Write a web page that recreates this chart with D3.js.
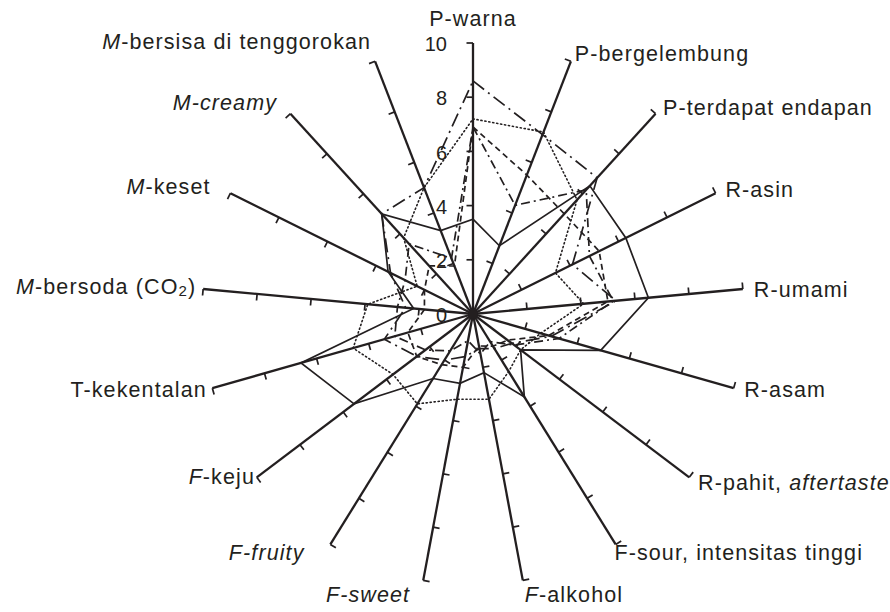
<!DOCTYPE html>
<html>
<head>
<meta charset="utf-8">
<script src="https://cdn.jsdelivr.net/npm/d3@7"></script>
<style>
  html, body { margin: 0; padding: 0; background: #fff; }
  svg { display: block; font-family: "Liberation Sans", Arial, sans-serif; }
</style>
</head>
<body>
<svg id="chart" width="890" height="612"></svg>
<script>
// ---- data ----
const categories = [
  "P-warna", "P-bergelembung", "P-terdapat endapan", "R-asin", "R-umami", "R-asam",
  "R-pahit, <i>aftertaste</i>", "F-sour, intensitas tinggi", "<i>F</i>-alkohol",
  "<i>F-sweet</i>", "<i>F-fruity</i>", "<i>F</i>-keju", "T-kekentalan",
  "<i>M</i>-bersoda (CO<sub>2</sub>)", "<i>M</i>-keset", "<i>M-creamy</i>",
  "<i>M</i>-bersisa di tenggorokan"
];
const tickValues = [0, 2, 4, 6, 8, 10];
const seriesSolid   = [3.5, 2.7, 6.4, 6.3, 6.5, 4.9, 2.2, 3.6, 2.2, 2.6, 2.8, 5.5, 6.6, 2.2, 3.5, 5.0, 3.3];
const seriesDotted  = [7.2, 7.2, 5.7, 3.4, 4.1, 2.6, 2.2, 2.5, 3.2, 3.2, 3.9, 3.7, 4.6, 3.9, 2.3, 3.8, 5.0];
const seriesDashed  = [6.9, 5.5, 5.0, 5.2, 5.0, 2.9, 1.6, 1.4, 1.2, 2.0, 2.2, 2.6, 2.5, 1.8, 2.0, 2.4, 1.9];
const seriesDashDot = [8.6, 7.1, 6.8, 4.1, 5.3, 3.0, 1.8, 1.5, 1.3, 1.6, 2.0, 2.6, 3.4, 2.5, 3.4, 5.0, 5.0];
const seriesDashDot2 = [6.9, 4.3, 6.2, 4.8, 5.2, 3.3, 1.9, 1.2, 1.5, 1.0, 1.6, 2.2, 3.0, 2.8, 2.8, 3.5, 2.2];

// ---- layout ----
const cx = 473, cy = 314, R = 271;
const ink = "#231f20";
// small per-label position nudges [dx, dy] in px (layout only)
const labelNudge = [
  [0, 3], [0, 4], [0, 3], [0, 3], [0, 3], [0, 0], [0, 0], [-7, 0], [0, 5],
  [-11, 5], [-20, 0], [7, -6], [5, 0], [4, 0], [-10, 0], [-6, -2], [0, -8]
];

const svg = d3.select("#chart");
const g = svg.append("g").attr("transform", `translate(${cx},${cy})`);

const n = categories.length;
const angle = d3.scaleLinear().domain([0, n]).range([0, 2 * Math.PI]);
const r = d3.scaleLinear().domain([0, 10]).range([0, R]);
const dir = i => [Math.sin(angle(i)), -Math.cos(angle(i))];

// series
const series = [
  { values: seriesDotted,   dash: "1.2,2.8", width: 1.6, cap: "round" },
  { values: seriesDashed,   dash: "6,4",     width: 1.7, cap: "butt" },
  { values: seriesDashDot2, dash: "9,4,2,4", width: 1.7, cap: "butt" },
  { values: seriesDashDot,  dash: "14,5,2,5", width: 1.7, cap: "butt" },
  { values: seriesSolid,    dash: null,      width: 1.7, cap: "butt" }
];
const line = d3.lineRadial()
  .angle((d, i) => angle(i))
  .radius(d => r(d))
  .curve(d3.curveLinearClosed);

// axes
const axes = g.append("g");
categories.forEach((c, i) => {
  const [dx, dy] = dir(i);
  axes.append("line")
    .attr("x1", 0).attr("y1", 0)
    .attr("x2", dx * r(10)).attr("y2", dy * r(10))
    .attr("stroke", ink).attr("stroke-width", 2.3);
  tickValues.filter(v => v > 0).forEach(v => {
    const px = dx * r(v), py = dy * r(v);
    axes.append("line")
      .attr("x1", px).attr("y1", py)
      .attr("x2", px + dy * 6.5).attr("y2", py - dx * 6.5)
      .attr("stroke", ink).attr("stroke-width", 1.7);
  });
});

series.forEach(s => {
  g.append("path")
    .attr("d", line(s.values))
    .attr("fill", "none")
    .attr("stroke", ink)
    .attr("stroke-width", s.width)
    .attr("stroke-linecap", s.cap)
    .attr("stroke-dasharray", s.dash);
});

g.append("circle").attr("r", 5).attr("fill", ink);

// tick labels on first axis
g.append("g").selectAll("text").data(tickValues).join("text")
  .attr("x", -26)
  .attr("y", d => -r(d) + 3)
  .attr("text-anchor", "end")
  .attr("dominant-baseline", "middle")
  .attr("font-size", 20)
  .attr("fill", ink)
  .text(d => d);

// category labels
function addRich(textSel, str) {
  const parts = str.split(/(<i>|<\/i>|<sub>|<\/sub>)/).filter(p => p !== "");
  let italic = false, sub = false;
  parts.forEach(p => {
    if (p === "<i>") { italic = true; return; }
    if (p === "</i>") { italic = false; return; }
    if (p === "<sub>") { sub = true; return; }
    if (p === "</sub>") { sub = false; return; }
    const t = textSel.append("tspan").text(p);
    if (italic) t.attr("font-style", "italic");
    if (sub) t.attr("baseline-shift", "-25%").attr("font-size", "0.7em");
  });
}
categories.forEach((c, i) => {
  const [dx, dy] = dir(i);
  const lr = i === 0 ? 297 : 282;
  const x = dx * lr + labelNudge[i][0], y = dy * lr + labelNudge[i][1];
  let anchor = "middle";
  if (dx > 0.1) anchor = "start";
  else if (dx < -0.1) anchor = "end";
  const t = g.append("text")
    .attr("x", x).attr("y", y)
    .attr("text-anchor", anchor)
    .attr("dominant-baseline", "middle")
    .attr("font-size", 21.5)
    .attr("letter-spacing", 1.1)
    .attr("fill", ink);
  addRich(t, c);
});
</script>
</body>
</html>
